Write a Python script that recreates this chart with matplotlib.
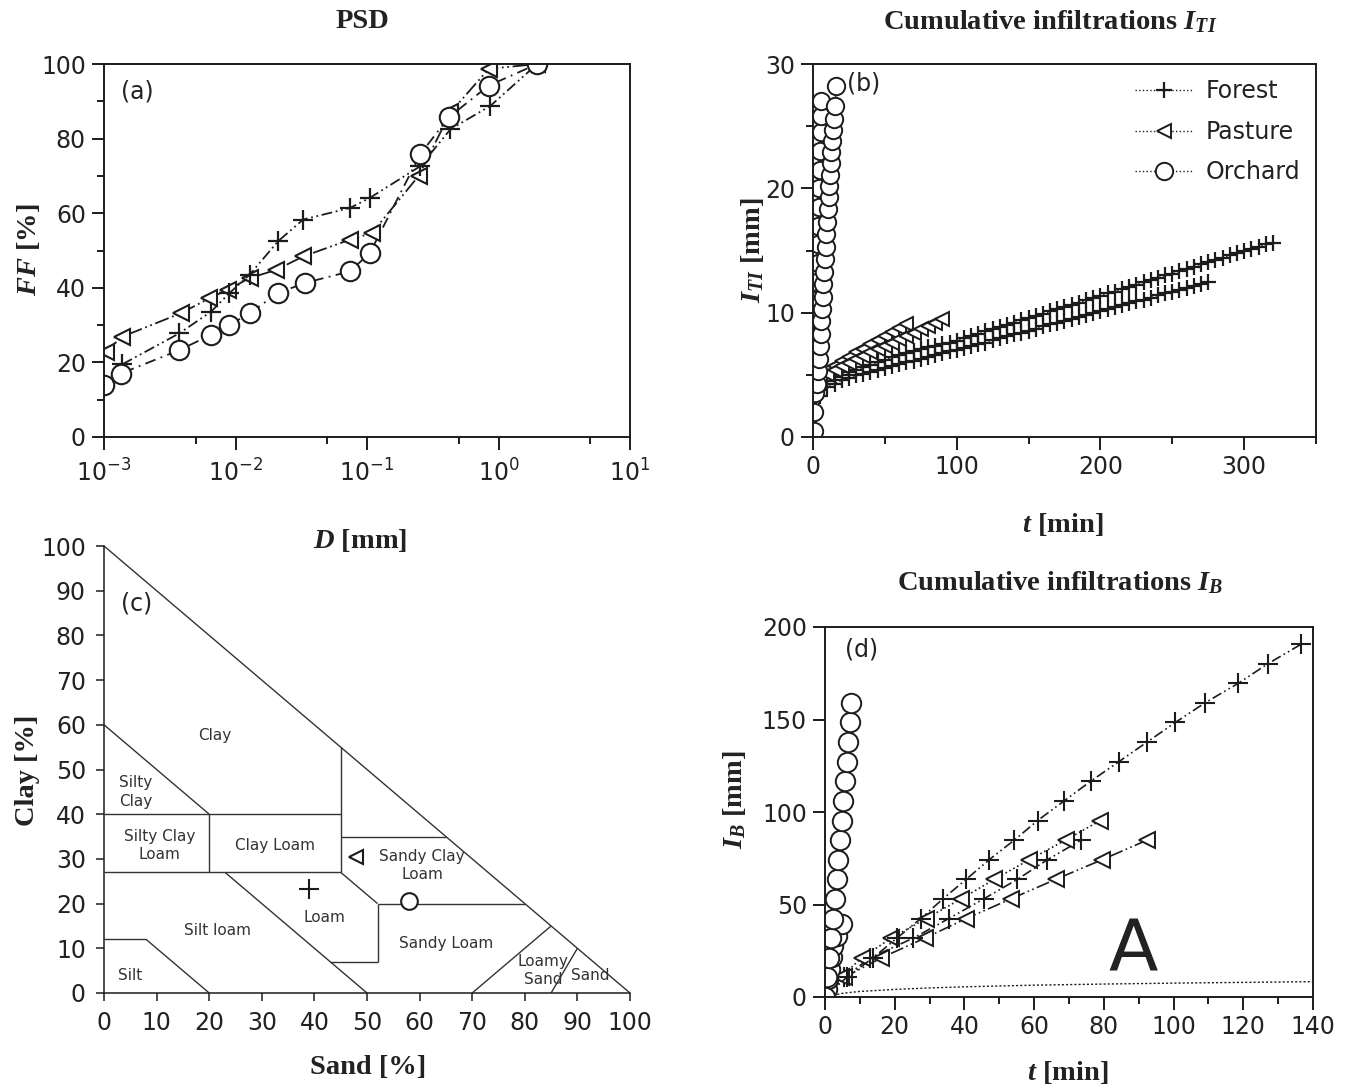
import matplotlib
matplotlib.use('Agg')
import matplotlib.pyplot as plt
from matplotlib.ticker import MultipleLocator, LogLocator, NullFormatter

# figure size in pixels
W, H = 1359, 1089

# ---- (a) particle size distribution ----
psd_forest_d = [0.00138, 0.00374, 0.00652, 0.0090, 0.0128, 0.0211, 0.0327, 0.0741, 0.105, 0.254, 0.431, 0.869, 1.97]
psd_forest_ff = [19.5, 27.8, 33.6, 38.6, 43.5, 52.5, 58.3, 61.4, 64.1, 72.6, 82.5, 88.8, 100]
psd_pasture_d = [0.00103, 0.00138, 0.00385, 0.00634, 0.00875, 0.0128, 0.0204, 0.0327, 0.0741, 0.109, 0.247, 0.431, 0.843, 1.97]
psd_pasture_ff = [22.9, 26.9, 33.2, 37.2, 39.5, 42.6, 44.8, 48.4, 52.9, 54.7, 70.0, 87.0, 98.7, 100]
psd_orchard_d = [0.00100, 0.00134, 0.00374, 0.00652, 0.0090, 0.0128, 0.0211, 0.0337, 0.0741, 0.105, 0.254, 0.418, 0.843, 1.97]
psd_orchard_ff = [13.9, 17.0, 23.3, 27.4, 30.0, 33.2, 38.6, 41.3, 44.4, 49.3, 75.8, 85.7, 94.2, 100]

# ---- (b) cumulative infiltration I_TI ----
b_forest1_t = [0, 5, 10, 15, 20, 25, 30, 35, 40, 45, 50, 55, 60, 65, 70, 75, 80, 85, 90, 95,
               100, 105, 110, 115, 120, 125, 130, 135, 140, 145, 150, 155, 160, 165, 170, 175,
               180, 185, 190, 195, 200, 205, 210, 215, 220, 225, 230, 235, 240, 245, 250, 255,
               260, 265, 270, 275, 280, 285, 290, 295, 300, 305, 310, 315, 320]
b_forest1_i = [0.5, 3.8, 4.5, 4.8, 5.0, 5.2, 5.4, 5.6, 5.8, 6.0, 6.2, 6.4, 6.6, 6.75, 6.9, 7.05,
               7.2, 7.35, 7.5, 7.6, 7.75, 7.95, 8.1, 8.3, 8.5, 8.65, 8.85, 9.0, 9.2, 9.4, 9.55,
               9.75, 9.9, 10.1, 10.3, 10.45, 10.65, 10.8, 11.0, 11.2, 11.35, 11.55, 11.7, 11.9,
               12.1, 12.25, 12.45, 12.6, 12.8, 13.0, 13.15, 13.35, 13.5, 13.7, 13.9, 14.05,
               14.25, 14.4, 14.6, 14.8, 14.95, 15.15, 15.3, 15.5, 15.6]
b_forest2_t = [0, 5, 10, 15, 20, 25, 30, 35, 40, 45, 50, 55, 60, 65, 70, 75, 80, 85, 90, 95,
               100, 105, 110, 115, 120, 125, 130, 135, 140, 145, 150, 155, 160, 165, 170, 175,
               180, 185, 190, 195, 200, 205, 210, 215, 220, 225, 230, 235, 240, 245, 250, 255,
               260, 265, 270, 275]
b_forest2_i = [0.3, 3.3, 4.0, 4.3, 4.55, 4.75, 4.95, 5.1, 5.25, 5.4, 5.55, 5.7, 5.85, 6.0, 6.15,
               6.3, 6.45, 6.6, 6.75, 6.9, 7.0, 7.15, 7.3, 7.45, 7.6, 7.8, 7.95, 8.1, 8.25, 8.4,
               8.55, 8.7, 8.9, 9.05, 9.2, 9.35, 9.5, 9.65, 9.8, 9.95, 10.15, 10.3, 10.45, 10.6,
               10.75, 10.9, 11.05, 11.2, 11.4, 11.55, 11.7, 11.85, 12.0, 12.15, 12.3, 12.5]
b_pasture1_t = [0, 5, 10, 15, 20, 25, 30, 35, 40, 45, 50, 55, 60, 65]
b_pasture1_i = [4.6, 5.0, 5.4, 5.75, 6.1, 6.45, 6.8, 7.1, 7.45, 7.8, 8.1, 8.45, 8.75, 9.1]
b_pasture2_t = [0, 5, 10, 15, 20, 25, 30, 35, 40, 45, 50, 55, 60, 65, 70, 75, 80, 85, 90]
b_pasture2_i = [4.5, 4.8, 5.1, 5.4, 5.7, 5.95, 6.25, 6.5, 6.8, 7.05, 7.3, 7.6, 7.85, 8.1, 8.4,
                8.65, 8.9, 9.2, 9.5]
b_orchard1_t = [0.5, 0.8, 1.1, 1.4, 1.7, 2.0, 2.3, 2.6, 2.9, 3.2, 3.5, 3.8, 4.1, 4.4, 4.7, 5.0,
                5.3, 5.6, 5.9]
b_orchard1_i = [0.5, 2.0, 3.5, 5.0, 6.5, 8.0, 9.5, 11.0, 12.5, 14.0, 15.5, 17.0, 18.5, 20.0,
                21.5, 23.0, 24.5, 25.8, 27.0]
b_orchard2_t = [3.0, 3.6, 4.2, 4.8, 5.3, 5.8, 6.3, 6.8, 7.3, 7.8, 8.3, 8.8, 9.3, 9.8, 10.3,
                10.8, 11.3, 11.8, 12.3, 12.8, 13.3, 13.8, 14.4, 15.2, 16.3]
b_orchard2_i = [4.3, 5.3, 6.3, 7.3, 8.3, 9.3, 10.3, 11.3, 12.3, 13.3, 14.3, 15.3, 16.3, 17.3,
                18.3, 19.3, 20.2, 21.1, 22.0, 22.9, 23.8, 24.7, 25.6, 26.6, 28.2]

# ---- (c) USDA texture triangle: class boundaries as (sand, clay) pairs ----
tri_lines = [
    ([0, 100], [100, 0]),
    ([0, 20], [60, 40]),
    ([0, 45], [40, 40]),
    ([45, 45], [55, 27]),
    ([0, 45], [27, 27]),
    ([20, 20], [40, 27]),
    ([45, 65], [35, 35]),
    ([45, 52], [27, 20]),
    ([52, 80], [20, 20]),
    ([52, 52], [20, 7]),
    ([43, 52], [7, 7]),
    ([23, 50], [27, 0]),
    ([0, 8], [12, 12]),
    ([8, 20], [12, 0]),
    ([70, 85], [0, 15]),
    ([85, 90], [0, 10]),
]
tri_labels = ['Clay', 'Silty\nClay', 'Silty Clay\nLoam', 'Clay Loam', 'Sandy Clay\nLoam',
              'Loam', 'Silt loam', 'Sandy Loam', 'Silt', 'Loamy\nSand', 'Sand']
tri_label_sand = [21, 6, 10.5, 32.5, 60.5, 42, 21.5, 65, 5, 83.5, 92.5]
tri_label_clay = [57.5, 45, 33, 33, 28.5, 17, 14, 11, 4, 5, 4]
texture_sand = {'Forest': 39, 'Pasture': 48, 'Orchard': 58}
texture_clay = {'Forest': 23.3, 'Pasture': 30.5, 'Orchard': 20.5}

# ---- (d) cumulative infiltration I_B ----
d_forest1_t = [0, 6.2, 13.8, 20.6, 27.5, 33.8, 40.5, 47.1, 54.3, 61.0, 68.6, 76.2, 84.3, 92.4,
               100.5, 109.0, 118.6, 127.1, 136.7]
d_forest1_i = [0, 10.6, 21.2, 31.8, 42.4, 53.0, 63.6, 74.2, 84.8, 95.4, 106.0, 116.6, 127.2,
               137.8, 148.4, 159.0, 169.6, 180.2, 190.8]
d_forest2_t = [0, 5.5, 13.0, 25.3, 35.5, 45.5, 55.2, 63.8, 73.5]
d_forest2_i = [0, 10.6, 21.2, 31.8, 42.4, 53.0, 63.6, 74.2, 84.8]
d_pasture1_t = [0, 4.5, 10.5, 19.0, 29.0, 39.0, 48.6, 58.6, 69.0, 79.0]
d_pasture1_i = [0, 10.6, 21.2, 31.8, 42.4, 53.0, 63.6, 74.2, 84.8, 95.4]
d_pasture2_t = [0, 5.5, 16.2, 28.6, 40.5, 53.3, 66.2, 79.5, 92.4]
d_pasture2_i = [0, 10.6, 21.2, 31.8, 42.4, 53.0, 63.6, 74.2, 84.8]
d_orchard1_t = [0, 0.6, 1.2, 1.7, 2.3, 2.9, 3.3, 3.8, 4.3, 4.8, 5.2, 5.7, 6.2, 6.7, 7.1, 7.6]
d_orchard1_i = [0, 10.6, 21.2, 31.8, 42.4, 53.0, 63.6, 74.2, 84.8, 95.4, 106.0, 116.6, 127.2,
                137.8, 148.4, 159.0]
d_orchard2_t = [0, 0.5, 1.0, 1.4, 1.9, 2.4, 3.3, 4.8]
d_orchard2_i = [0, 4.5, 9.8, 15.2, 21.4, 27.7, 33.0, 39.3]
d_model_t = [0, 5, 10, 20, 30, 40, 60, 80, 100, 120, 140]
d_model_i = [0, 2.0, 3.0, 4.1, 4.9, 5.5, 6.4, 7.0, 7.5, 7.9, 8.3]

plt.rcParams['font.family'] = 'DejaVu Sans'
plt.rcParams['mathtext.fontset'] = 'custom'
plt.rcParams['mathtext.it'] = 'Liberation Serif:italic:bold'
plt.rcParams['mathtext.rm'] = 'Liberation Serif:bold'
plt.rcParams['mathtext.bf'] = 'Liberation Serif:bold'

INK = '#1c1c1c'
TICK = 17
LAB = 20.5
dash_f = (0, (6, 2, 1, 2, 1, 2))
dash_p = (0, (8, 2, 1, 2, 1, 2))
dash_o = (0, (6, 3, 1, 3))

fig = plt.figure(figsize=(W / 100, H / 100), dpi=100)


def px_rect(l, t, r, b):
    return [l / W, 1 - b / H, (r - l) / W, (b - t) / H]


def ftext(x, y, s, **kw):
    fig.text(x / W, 1 - y / H, s, ha='center', va='center', **kw)


def style(ax, lw=1.4):
    for sp in ax.spines.values():
        sp.set_linewidth(lw)
        sp.set_color(INK)
    ax.tick_params(which='both', direction='out', top=False, right=False,
                   width=lw, color=INK, labelsize=TICK, labelcolor='#222222')
    ax.tick_params(which='major', length=9, pad=4)
    ax.tick_params(which='minor', length=5)


serif = dict(family='Liberation Serif', weight='bold', size=LAB, color='#222222')

# (a)
ax = fig.add_axes(px_rect(104, 64, 630, 437))
style(ax)
ax.plot(psd_pasture_d, psd_pasture_ff, color=INK, lw=1.3, ls=dash_p, marker='<', ms=11,
        mfc='white', mec=INK, mew=1.5)
ax.plot(psd_forest_d, psd_forest_ff, color=INK, lw=1.3, ls=dash_f, marker='+', ms=14,
        mec=INK, mew=1.6)
ax.plot(psd_orchard_d, psd_orchard_ff, color=INK, lw=1.3, ls=dash_o, marker='o', ms=14,
        mfc='white', mec=INK, mew=1.5)
ax.set_xscale('log')
ax.set_xlim(1e-3, 1e1)
ax.set_ylim(0, 100)
ax.xaxis.set_major_locator(LogLocator(base=10, numticks=10))
ax.xaxis.set_minor_locator(LogLocator(base=10, subs=[5], numticks=10))
ax.xaxis.set_minor_formatter(NullFormatter())
ax.yaxis.set_major_locator(MultipleLocator(20))
ax.yaxis.set_minor_locator(MultipleLocator(10))
ax.tick_params(axis='x', which='major', pad=7)
ftext(137, 92, '(a)', size=TICK, color='#222222')
ftext(362, 22, 'PSD', **serif)
ftext(360, 541, '$D$ [mm]', **serif)
ftext(28, 250, '$FF$ [%]', rotation=90, **serif)

# (b)
ax = fig.add_axes(px_rect(813, 64, 1316, 437))
style(ax)
kw_f = dict(color=INK, lw=1.0, ls=':', marker='+', ms=12, mec=INK, mew=1.6)
kw_p = dict(color=INK, lw=1.0, ls=':', marker='<', ms=10, mfc='white', mec=INK, mew=1.4)
kw_o = dict(color=INK, lw=1.0, ls=':', marker='o', ms=12.5, mfc='white', mec=INK, mew=1.4)
h_f, = ax.plot(b_forest1_t, b_forest1_i, label='Forest', **kw_f)
ax.plot(b_forest2_t, b_forest2_i, **kw_f)
h_p, = ax.plot(b_pasture1_t, b_pasture1_i, label='Pasture', **kw_p)
ax.plot(b_pasture2_t, b_pasture2_i, **kw_p)
h_o, = ax.plot(b_orchard1_t, b_orchard1_i, label='Orchard', **kw_o)
ax.plot(b_orchard2_t, b_orchard2_i, **kw_o)
ax.set_xlim(0, 350)
ax.set_ylim(0, 30)
ax.xaxis.set_major_locator(MultipleLocator(100))
ax.xaxis.set_minor_locator(MultipleLocator(50))
ax.yaxis.set_major_locator(MultipleLocator(10))
ax.yaxis.set_minor_locator(MultipleLocator(5))
leg = ax.legend(handles=[h_f, h_p, h_o], loc='upper right', bbox_to_anchor=(1.0, 1.0),
                frameon=False, fontsize=TICK, handlelength=2.4, handletextpad=0.6,
                labelspacing=0.7, borderaxespad=0.25)
for t in leg.get_texts():
    t.set_color('#222222')
ftext(864, 84, '(b)', size=TICK, color='#222222')
ftext(1050, 22, 'Cumulative infiltrations $I_{TI}$', **serif)
ftext(1063, 524, '$t$ [min]', **serif)
ftext(752, 250, '$I_{TI}$ [mm]', rotation=90, **serif)

# (c)
ax = fig.add_axes(px_rect(104, 546, 630, 993))
style(ax, lw=1.1)
ax.spines['top'].set_visible(False)
ax.spines['right'].set_visible(False)
ax.tick_params(which='major', length=6, pad=7)
for xs, ys in tri_lines:
    ax.plot(xs, ys, color='#333333', lw=1.0, solid_capstyle='butt')
for lbl, xs, ys in zip(tri_labels, tri_label_sand, tri_label_clay):
    ax.text(xs, ys, lbl, ha='center', va='center', fontsize=11, color='#333333',
            linespacing=1.3)
ax.plot(texture_sand['Forest'], texture_clay['Forest'], marker='+', ms=14, mec=INK, mew=1.5)
ax.plot(texture_sand['Pasture'], texture_clay['Pasture'], marker='<', ms=10, mfc='white',
        mec=INK, mew=1.5)
ax.plot(texture_sand['Orchard'], texture_clay['Orchard'], marker='o', ms=12, mfc='white',
        mec=INK, mew=1.5, zorder=5)
ax.set_xlim(0, 100)
ax.set_ylim(0, 100)
ax.xaxis.set_major_locator(MultipleLocator(10))
ax.yaxis.set_major_locator(MultipleLocator(10))
ftext(137, 603, '(c)', size=TICK, color='#222222')
ftext(368, 1068, 'Sand [%]', **serif)
ftext(28, 770, 'Clay [%]', rotation=90, **serif)

# (d)
ax = fig.add_axes(px_rect(825, 627, 1313, 997))
style(ax)
ax.plot(d_model_t, d_model_i, color=INK, lw=1.0, ls=(0, (1.5, 1.5)))
ax.plot(d_pasture2_t, d_pasture2_i, color=INK, lw=1.2, ls=dash_p, marker='<', ms=11,
        mfc='white', mec=INK, mew=1.4)
ax.plot(d_forest2_t, d_forest2_i, color=INK, lw=1.2, ls=dash_f, marker='+', ms=14, mec=INK,
        mew=1.5)
ax.plot(d_pasture1_t, d_pasture1_i, color=INK, lw=1.2, ls=':', marker='<', ms=11,
        mfc='white', mec=INK, mew=1.4)
ax.plot(d_forest1_t, d_forest1_i, color=INK, lw=1.2, ls=dash_f, marker='+', ms=14, mec=INK,
        mew=1.5)
ax.plot(d_orchard2_t, d_orchard2_i, color=INK, lw=1.0, ls=':', marker='o', ms=14,
        mfc='white', mec=INK, mew=1.4)
ax.plot(d_orchard1_t, d_orchard1_i, color=INK, lw=1.0, ls=':', marker='o', ms=14,
        mfc='white', mec=INK, mew=1.4)
ax.text(88.5, 14.3, 'A', ha='center', va='baseline', fontsize=52, color='#222222')
ax.set_xlim(0, 140)
ax.set_ylim(0, 200)
ax.xaxis.set_major_locator(MultipleLocator(20))
ax.xaxis.set_minor_locator(MultipleLocator(10))
ax.yaxis.set_major_locator(MultipleLocator(50))
ftext(862, 650, '(d)', size=TICK, color='#222222')
ftext(1060, 583, 'Cumulative infiltrations $I_B$', **serif)
ftext(1068, 1072, '$t$ [min]', **serif)
ftext(735, 800, '$I_B$ [mm]', rotation=90, **serif)

fig.savefig('out.png', dpi=100, facecolor='white')
